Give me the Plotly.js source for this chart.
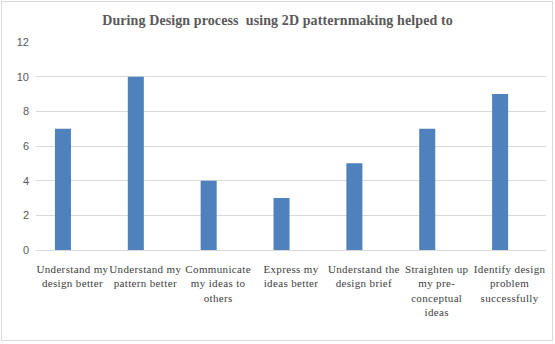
<!DOCTYPE html>
<html><head><meta charset="utf-8">
<script src="https://cdn.plot.ly/plotly-3.0.1.min.js"></script>
<style>
html,body{margin:0;padding:0;background:#fff;}
#wrap{position:relative;width:555px;height:344px;}
#chart{width:555px;height:344px;}
#frame{position:absolute;left:1px;top:1px;width:550px;height:338px;border:1px solid #d9d9d9;pointer-events:none;}
#chart .xtick text{letter-spacing:0.35px;}
#chart .gtitle{letter-spacing:0.1px;}
</style></head>
<body>
<div id="wrap"><div id="chart"></div><div id="frame"></div></div>
<script>
var categories = [
  "Understand my<br>design better",
  "Understand my<br>pattern better",
  "Communicate<br>my ideas to<br>others",
  "Express my<br>ideas better",
  "Understand the<br>design brief",
  "Straighten up<br>my pre-<br>conceptual<br>ideas",
  "Identify design<br>problem<br>successfully"
];
var values = [7, 10, 4, 3, 5, 7, 9];
var yTicks = [0, 2, 4, 6, 8, 10, 12];

var serif = "Liberation Serif, DejaVu Serif, serif";
var trace = {
  type: "bar",
  x: categories,
  y: values,
  marker: {color: "#4f81bd"},
  width: 0.22,
  offset: -0.24,
  hoverinfo: "x+y"
};
var layout = {
  width: 555, height: 344,
  margin: {l: 36, r: 9, t: 42, b: 94},
  paper_bgcolor: "#fff", plot_bgcolor: "#fff",
  showlegend: false,
  title: {text: "<b>During Design process  using 2D patternmaking helped to</b>",
          font: {family: serif, size: 14, color: "#595959"},
          x: 0.5, xanchor: "center", xref: "container",
          y: 0.942, yanchor: "middle", yref: "container"},
  xaxis: {
    type: "category",
    tickfont: {family: serif, size: 11, color: "#404040"},
    tickangle: 0,
    showgrid: false, showline: false, ticks: "",
    ticklabelstandoff: 11,
    automargin: false
  },
  yaxis: {
    range: [0, 12],
    tickvals: yTicks,
    ticktext: yTicks.map(String),
    tickfont: {family: "Liberation Sans, Arial, sans-serif", size: 11, color: "#595959"},
    showgrid: true, gridcolor: "#d9d9d9", gridwidth: 1,
    zeroline: true, zerolinecolor: "#d9d9d9", zerolinewidth: 1,
    showline: false, ticks: "", ticklabelstandoff: 6,
    automargin: false
  }
};
Plotly.newPlot("chart", [trace], layout, {displayModeBar: false, staticPlot: true});
</script>
</body></html>
